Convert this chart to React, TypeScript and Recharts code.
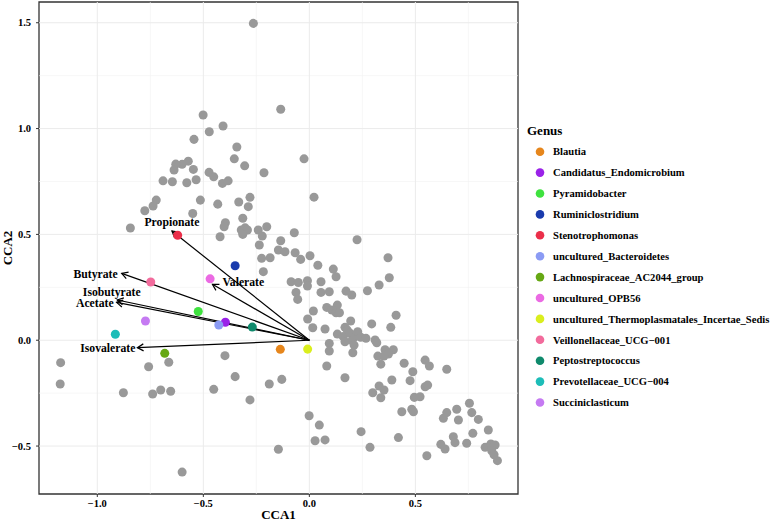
import React from 'react';
import { ScatterChart, Scatter, XAxis, YAxis, ReferenceLine, ReferenceArea, Legend, Cell } from 'recharts';

// ---------- data ----------
const grayPoints: [number, number][] = [
  [-0.264, 1.497], [-0.501, 1.064], [-0.472, 0.985], [-0.407, 1.012], [-0.544, 0.949], [-0.342, 0.913],
  [-0.354, 0.857], [-0.305, 0.824], [-0.571, 0.846], [-0.6, 0.831], [-0.63, 0.832], [-0.638, 0.804],
  [-0.547, 0.807], [-0.473, 0.793], [-0.451, 0.772], [-0.69, 0.753], [-0.646, 0.749], [-0.578, 0.744],
  [-0.534, 0.758], [-0.41, 0.741], [-0.383, 0.753], [-0.722, 0.662], [-0.737, 0.634], [-0.776, 0.612],
  [-0.514, 0.662], [-0.432, 0.643], [-0.333, 0.653], [-0.28, 0.675], [-0.288, 0.631], [-0.55, 0.599],
  [-0.844, 0.53], [-0.396, 0.555], [-0.402, 0.536], [-0.314, 0.576], [-0.321, 0.521], [-0.303, 0.531],
  [-0.292, 0.521], [-0.314, 0.5], [-0.421, 0.489], [-0.241, 0.521], [-0.236, 0.45],
  [-0.135, 1.091], [-0.214, 0.791], [-0.025, 0.857], [0.022, 0.676], [-0.201, 0.536], [-0.222, 0.492],
  [-0.071, 0.508], [-0.135, 0.47], [0.225, 0.475], [-0.146, 0.426], [-0.115, 0.418], [-0.067, 0.413],
  [0.003, 0.399], [-0.225, 0.387], [-0.185, 0.39], [-0.041, 0.382], [0.371, 0.39],
  [-0.217, 0.324], [0.04, 0.354], [0.113, 0.336], [0.126, 0.3], [0.377, 0.295], [-0.086, 0.276],
  [-0.052, 0.273], [-0.009, 0.281], [-0.009, 0.256], [0.055, 0.276], [-0.063, 0.226], [-0.055, 0.193],
  [0.055, 0.226], [0.094, 0.229], [0.173, 0.232], [0.2, 0.214], [0.274, 0.234], [0.329, 0.261],
  [0.082, 0.155], [0.132, 0.166], [0.106, 0.143], [0.126, 0.13], [0.142, 0.13], [0.019, 0.138],
  [-0.008, 0.1], [0.074, 0.053], [0.016, 0.059], [0.195, 0.091], [0.168, 0.061], [0.179, 0.048],
  [0.132, 0.029], [0.16, 0.017], [0.192, 0.033], [0.211, 0.014], [0.168, -0.007], [0.2, -0.002],
  [0.228, 0.04], [0.242, 0.014], [0.267, 0.009], [0.211, -0.023], [0.205, -0.059], [0.294, 0.077],
  [0.384, 0.061], [0.409, 0.118], [0.094, -0.015], [0.094, -0.051], [0.31, 0.001], [0.318, -0.012],
  [0.357, -0.045], [0.396, -0.045], [0.373, -0.065], [0.323, -0.075], [0.352, -0.075], [0.337, -0.113],
  [0.082, -0.122], [0.447, -0.109], [0.488, -0.149], [0.546, -0.094], [0.566, -0.122], [0.648, -0.137],
  [0.168, -0.177], [0.389, -0.188], [0.475, -0.191], [0.329, -0.216], [0.352, -0.235], [0.299, -0.248],
  [0.337, -0.272], [0.546, -0.22], [0.558, -0.212], [0.495, -0.27], [0.522, -0.267], [0.436, -0.338],
  [0.483, -0.326], [0.491, -0.338], [0.632, -0.369], [0.648, -0.342], [0.695, -0.326], [0.703, -0.377],
  [-0.001, -0.357], [0.047, -0.401], [0.027, -0.475], [0.074, -0.471], [0.244, -0.432], [0.286, -0.506],
  [0.42, -0.46], [0.554, -0.546], [0.62, -0.492], [0.64, -0.514], [0.679, -0.456], [0.687, -0.484],
  [0.742, -0.487], [-0.146, -0.515], [-0.189, -0.207], [-0.13, -0.185], [-0.28, -0.282], [-0.35, -0.172],
  [-1.173, -0.106], [-1.175, -0.207], [-0.877, -0.248], [-0.758, -0.125], [-0.739, -0.254], [-0.701, -0.235],
  [-0.654, -0.241], [-0.663, -0.104], [-0.398, -0.073], [-0.451, -0.232], [-0.6, -0.623],
  [0.755, -0.298], [0.766, -0.342], [0.797, -0.374], [0.844, -0.424], [0.771, -0.44], [0.829, -0.506],
  [0.856, -0.49], [0.876, -0.495], [0.86, -0.522], [0.871, -0.541], [0.887, -0.569],
];

const genusNames = [
  'Blautia', 'Candidatus_Endomicrobium', 'Pyramidobacter', 'Ruminiclostridium', 'Stenotrophomonas',
  'uncultured_Bacteroidetes', 'Lachnospiraceae_AC2044_group', 'uncultured_OPB56',
  'uncultured_Thermoplasmatales_Incertae_Sedis', 'Veillonellaceae_UCG\u2212001', 'Peptostreptococcus',
  'Prevotellaceae_UCG\u2212004', 'Succiniclasticum',
];
const genusX = [-0.137, -0.396, -0.524, -0.35, -0.621, -0.427, -0.682, -0.468, -0.008, -0.748, -0.269, -0.915, -0.773];
const genusY = [-0.043, 0.085, 0.136, 0.352, 0.496, 0.072, -0.062, 0.29, -0.042, 0.275, 0.062, 0.028, 0.091];
const genusColors = [
  '#E6861C', '#9A22E8', '#3FE23F', '#1A3BAD', '#EB2F4A', '#8B9BF4', '#66A814', '#EB6AE3',
  '#DAEE1E', '#F26B9C', '#0F8A6C', '#1DBDB8', '#C57AF2',
];

const arrowNames = ['Propionate', 'Butyrate', 'Isobutyrate', 'Acetate', 'Isovalerate', 'Valerate'];
const arrowX = [-0.648, -0.885, -0.906, -0.909, -0.811, -0.457];
const arrowY = [0.516, 0.316, 0.19, 0.179, -0.035, 0.264];

const xTicks = [-1, -0.5, 0, 0.5];
const yTicks = [-0.5, 0, 0.5, 1, 1.5];
const xMinor = [-0.75, -0.25, 0.25, 0.75];
const yMinor = [-0.25, 0.25, 0.75, 1.25];

// ---------- styling ----------
const FONT = '"Liberation Serif", "Times New Roman", Times, serif';
const X_DOMAIN: [number, number] = [-1.275, 0.984];
const Y_DOMAIN: [number, number] = [-0.7265, 1.598];

const LABEL_STYLE: Record<string, { dx: number; dy: number; anchor: 'start' | 'middle' | 'end' }> = {
  Propionate: { dx: 0, dy: -5, anchor: 'middle' },
  Butyrate: { dx: -4, dy: 4.5, anchor: 'end' },
  Isobutyrate: { dx: -5.5, dy: -4.5, anchor: 'middle' },
  Acetate: { dx: -3, dy: 5, anchor: 'end' },
  Isovalerate: { dx: -2, dy: 4, anchor: 'end' },
  Valerate: { dx: 10, dy: 1.5, anchor: 'start' },
};

const grayData = grayPoints.map(([x, y]) => ({ x, y }));
const genusData = genusNames.map((name, i) => ({ name, x: genusX[i], y: genusY[i] }));

const fmt = (v: number) => v.toFixed(1).replace('-', '\u2212');

const makeArrowShape = (name: string) => (props: any) => {
  const { x1, y1, x2, y2 } = props;
  if ([x1, y1, x2, y2].some((v) => typeof v !== 'number' || isNaN(v))) return <g />;
  const ang = Math.atan2(y1 - y2, x1 - x2);
  const L = 7;
  const A = Math.PI / 6;
  const ax1 = x2 + L * Math.cos(ang + A);
  const ay1 = y2 + L * Math.sin(ang + A);
  const ax2 = x2 + L * Math.cos(ang - A);
  const ay2 = y2 + L * Math.sin(ang - A);
  const lab = LABEL_STYLE[name];
  return (
    <g>
      <line x1={x1} y1={y1} x2={x2} y2={y2} stroke="#000" strokeWidth={1.2} />
      <polyline
        points={`${ax1},${ay1} ${x2},${y2} ${ax2},${ay2}`}
        fill="none"
        stroke="#000"
        strokeWidth={1.2}
      />
      <text
        x={x2 + lab.dx}
        y={y2 + lab.dy}
        textAnchor={lab.anchor}
        fontFamily={FONT}
        fontSize={11.7}
        fontWeight="bold"
        fill="#000"
      >
        {name}
      </text>
    </g>
  );
};

const LegendBox = () => (
  <svg width={255} height={300} style={{ display: 'block' }}>
    <text x={7} y={19.5} fontFamily={FONT} fontSize={13} fontWeight="bold" fill="#000">
      Genus
    </text>
    {genusNames.map((name, i) => {
      const cy = 36.7 + 20.9 * i;
      return (
        <g key={name}>
          <circle cx={20} cy={cy} r={4.3} fill={genusColors[i]} />
          <text x={33} y={cy + 3.7} fontFamily={FONT} fontSize={10.6} fontWeight="bold" fill="#000">
            {name}
          </text>
        </g>
      );
    })}
  </svg>
);

const YTitle = (p: any) => {
  const vb = p.viewBox || { x: 0, y: 2, width: 39, height: 492 };
  const cx = vb.x + 11.5;
  const cy = vb.y + vb.height / 2;
  return (
    <text
      x={cx}
      y={cy}
      transform={`rotate(-90 ${cx} ${cy})`}
      textAnchor="middle"
      fontFamily={FONT}
      fontSize={13}
      fontWeight="bold"
      fill="#000"
    >
      CCA2
    </text>
  );
};

const tickStyle = { fontFamily: FONT, fontSize: 10.5, fontWeight: 'bold', fill: '#000' };

export default function App() {
  return (
    <div style={{ position: 'absolute', left: 0, top: 0, background: '#fff' }}>
      <ScatterChart width={775} height={521} margin={{ top: 2, right: 257, bottom: 0, left: 0 }}>
        <XAxis
          type="number"
          dataKey="x"
          domain={X_DOMAIN}
          ticks={xTicks}
          allowDataOverflow
          tickFormatter={fmt}
          tick={tickStyle}
          axisLine={false}
          tickLine={{ stroke: '#333', strokeWidth: 1 }}
          tickSize={3}
          tickMargin={3}
          height={27}
          label={{
            value: 'CCA1',
            position: 'insideBottom',
            offset: 2.5,
            fontFamily: FONT,
            fontSize: 13,
            fontWeight: 'bold',
            fill: '#000',
          }}
        />
        <YAxis
          type="number"
          dataKey="y"
          domain={Y_DOMAIN}
          ticks={yTicks}
          allowDataOverflow
          tickFormatter={fmt}
          tick={tickStyle}
          axisLine={false}
          tickLine={{ stroke: '#333', strokeWidth: 1 }}
          tickSize={3}
          tickMargin={5}
          width={39}
          label={{ content: YTitle }}
        />
        {xMinor.map((v) => (
          <ReferenceLine key={'xm' + v} x={v} stroke="#F2F2F2" strokeWidth={0.6} />
        ))}
        {yMinor.map((v) => (
          <ReferenceLine key={'ym' + v} y={v} stroke="#F2F2F2" strokeWidth={0.6} />
        ))}
        {xTicks.map((v) => (
          <ReferenceLine key={'xM' + v} x={v} stroke="#EBEBEB" strokeWidth={1} />
        ))}
        {yTicks.map((v) => (
          <ReferenceLine key={'yM' + v} y={v} stroke="#EBEBEB" strokeWidth={1} />
        ))}
        <Scatter data={grayData} fill="#999999" isAnimationActive={false} />
        {arrowNames.map((name, i) => (
          <ReferenceLine
            key={name}
            segment={[
              { x: 0, y: 0 },
              { x: arrowX[i], y: arrowY[i] },
            ]}
            stroke="#000"
            ifOverflow="visible"
            shape={makeArrowShape(name)}
          />
        ))}
        <Scatter data={genusData} isAnimationActive={false}>
          {genusData.map((d, i) => (
            <Cell key={d.name} fill={genusColors[i]} />
          ))}
        </Scatter>
        <ReferenceArea
          x1={X_DOMAIN[0]}
          x2={X_DOMAIN[1]}
          y1={Y_DOMAIN[0]}
          y2={Y_DOMAIN[1]}
          fill="none"
          fillOpacity={0}
          stroke="#333333"
          strokeWidth={1.3}
          ifOverflow="visible"
        />
        <Legend
          layout="vertical"
          align="center"
          verticalAlign="middle"
          content={() => <LegendBox />}
          wrapperStyle={{ left: 520, top: 115, width: 255, height: 300 }}
        />
      </ScatterChart>
    </div>
  );
}
